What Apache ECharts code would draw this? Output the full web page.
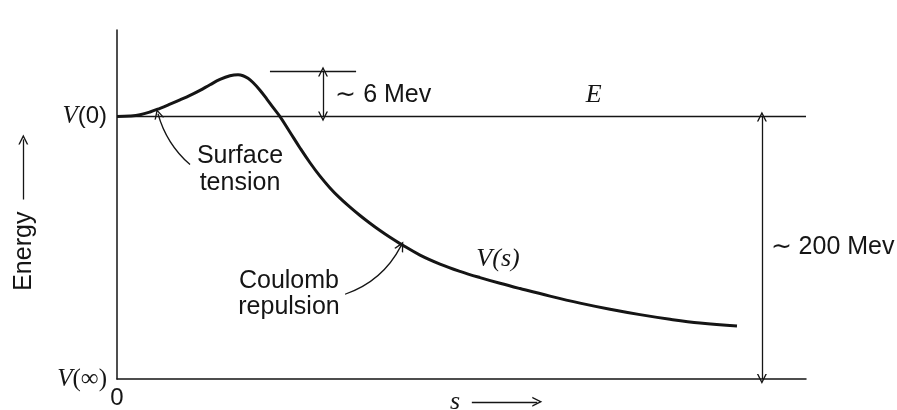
<!DOCTYPE html>
<html>
<head>
<meta charset="utf-8">
<script src="https://cdn.jsdelivr.net/npm/echarts@6/dist/echarts.min.js"></script>
<style>
  html, body { margin: 0; padding: 0; background: #ffffff; }
  #chart { width: 897px; height: 410px; }
</style>
</head>
<body>
<div id="chart"></div>
<script>
// ---- data (arbitrary energy units: V(inf)=0, V(0)=100) ----
const sValues = [0, 1.887, 3.338, 4.790, 6.241, 7.692, 9.144, 10.595, 12.046, 13.498, 14.949, 16.401, 17.562, 18.287, 19.013, 19.739, 20.755, 21.771, 22.642, 23.658, 25.109, 26.560, 28.012, 29.463, 30.914, 32.366, 33.817, 35.269, 36.720, 38.171, 39.623, 41.074, 43.977, 46.880, 49.782, 52.685, 55.588, 58.491, 62.845, 67.199, 71.553, 75.907, 80.261, 84.615, 89.985];
const vValues = [100, 100.23, 100.70, 101.75, 103.17, 104.73, 106.36, 108.07, 109.99, 112.14, 114.15, 115.54, 115.92, 115.58, 114.59, 112.97, 110.05, 106.59, 103.53, 100, 94.03, 88.05, 82.41, 77.30, 72.82, 68.90, 65.50, 62.31, 59.35, 56.57, 53.99, 51.60, 47.23, 43.81, 41.03, 38.64, 36.47, 34.46, 31.57, 28.91, 26.58, 24.53, 22.76, 21.33, 20.23];
const levelE = 100;        // V(0) = E
const levelInf = 0;        // V(inf)
const barrierTop = 117.2;  // ~6 Mev above V(0)
const yTickLabels = { 100: '{v|V}{p|(0)}', 0: '{v|V}{q|(∞)}' };
const xTickLabels = { 0: '0' };

// ---- annotations (data coordinates) ----
const INK = '#151515';
const chevron = 'path://M5,0 L10,10 L8.5,10 L5,3 L1.5,10 L0,10 Z';

const barrierRef = [[22.2, barrierTop], [34.7, barrierTop]];
const doubleArrows = [
  { coords: [[29.9, levelE], [29.9, barrierTop]] },
  { coords: [[93.6, levelInf], [93.6, levelE]] }
];
const singleArrows = [
  { coords: [[-13.6, 68.4], [-13.6, 91.3]], lineStyle: { curveness: 0 } },
  { coords: [[51.5, -8.7], [61.0, -8.7]], lineStyle: { curveness: 0 } },
  { coords: [[10.6, 81.7], [5.95, 101.1]], lineStyle: { curveness: 0.15 } },
  { coords: [[33.1, 32.3], [41.22, 50.72]], lineStyle: { curveness: -0.2 } }
];

const sans = 'Liberation Sans';
const serif = 'Liberation Serif';
const texts = [
  { value: [31.6, 108.1], label: { position: 'right', distance: 0, formatter: '∼ 6 Mev', fontFamily: sans, fontSize: 25 } },
  { value: [69.2, 108], label: { position: 'inside', formatter: 'E', fontFamily: serif, fontStyle: 'italic', fontSize: 26 } },
  { value: [94.8, 50.2], label: { position: 'right', distance: 0, formatter: '∼ 200 Mev', fontFamily: sans, fontSize: 25 } },
  { value: [55.3, 45.6], label: { position: 'inside', formatter: 'V(s)', fontFamily: serif, fontStyle: 'italic', fontSize: 26 } },
  { value: [17.85, 79.8], label: { position: 'inside', formatter: 'Surface\ntension', fontFamily: sans, fontSize: 25, lineHeight: 27, align: 'center' } },
  { value: [24.96, 32.3], label: { position: 'inside', formatter: 'Coulomb\nrepulsion', fontFamily: sans, fontSize: 25, lineHeight: 26, align: 'center' } },
  { value: [-13.5, 48.7], label: { position: 'inside', formatter: 'Energy', fontFamily: sans, fontSize: 25, rotate: 90 } },
  { value: [49.06, -8.7], label: { position: 'inside', formatter: 's', fontFamily: serif, fontStyle: 'italic', fontSize: 26 } }
];

const chart = echarts.init(document.getElementById('chart'), null, { renderer: 'canvas' });
chart.setOption({
  animation: false,
  backgroundColor: '#ffffff',
  grid: { left: 117, right: 91, top: 30, bottom: 30, containLabel: false },
  xAxis: {
    type: 'value', min: 0, max: 100, interval: 100,
    axisLine: { show: true, onZero: false, lineStyle: { color: INK, width: 1.5 } },
    axisTick: { show: false },
    splitLine: { show: false },
    axisLabel: {
      margin: 7, color: INK, fontFamily: sans, fontSize: 24,
      formatter: v => (xTickLabels[v] !== undefined ? xTickLabels[v] : '')
    }
  },
  yAxis: {
    type: 'value', min: 0, max: 133, interval: 100,
    axisLine: { show: true, onZero: false, lineStyle: { color: INK, width: 1.5 } },
    axisTick: { show: false },
    splitLine: { show: false },
    axisLabel: {
      margin: 10, color: INK,
      formatter: v => (yTickLabels[v] !== undefined ? yTickLabels[v] : ''),
      rich: {
        v: { fontFamily: serif, fontStyle: 'italic', fontSize: 25, color: INK },
        p: { fontFamily: sans, fontSize: 24, color: INK },
        q: { fontFamily: serif, fontSize: 25, color: INK }
      }
    }
  },
  series: [
    {
      name: 'E', type: 'line', data: [[0, levelE], [100, levelE]],
      symbol: 'none', silent: true,
      lineStyle: { color: INK, width: 1.5 }
    },
    {
      name: 'barrier ref', type: 'line', data: barrierRef,
      symbol: 'none', silent: true,
      lineStyle: { color: INK, width: 1.5 }
    },
    {
      name: 'V(s)', type: 'line',
      data: sValues.map((s, i) => [s, vValues[i]]),
      smooth: 0.4, symbol: 'none', silent: true,
      lineStyle: { color: INK, width: 3 }
    },
    {
      type: 'lines', coordinateSystem: 'cartesian2d', clip: false, silent: true,
      symbol: [chevron, chevron], symbolSize: 10,
      lineStyle: { color: INK, width: 1.3, opacity: 1, curveness: 0 },
      data: doubleArrows
    },
    {
      type: 'lines', coordinateSystem: 'cartesian2d', clip: false, silent: true,
      symbol: ['none', chevron], symbolSize: 10,
      lineStyle: { color: INK, width: 1.3, opacity: 1 },
      data: singleArrows
    },
    {
      type: 'scatter', clip: false, silent: true,
      symbolSize: 1, itemStyle: { color: 'rgba(0,0,0,0)', opacity: 1 },
      label: { show: true, color: INK, opacity: 1 },
      data: texts
    }
  ]
});
</script>
</body>
</html>
